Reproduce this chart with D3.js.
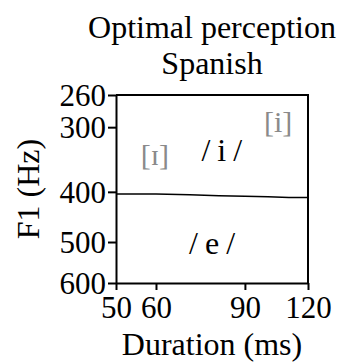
<!DOCTYPE html>
<html>
<head>
<meta charset="utf-8">
<script src="https://cdn.jsdelivr.net/npm/d3@7"></script>
<style>
  html, body { margin: 0; padding: 0; background: #fff; }
</style>
</head>
<body>
<svg id="chart" width="337" height="364"></svg>
<script>
// Category boundary between /i/ and /e/ across vowel duration
const boundaryDuration = [50, 60, 70, 80, 90, 100, 110, 120];
const boundaryF1 = [404, 404, 405, 407, 408, 409, 410, 410];

// Axis ticks
const durationTicks = [50, 60, 90, 120];
const f1Ticks = [260, 300, 400, 500, 600];

// Region labels: phonological categories and acoustic prototypes
const labelText = ["[\u026A]", "/i/", "[i]", "/e/"];
const labelDuration = [59.7, 81, 104.7, 77.5];
const labelF1 = [341, 334, 294, 505];
const labelColor = ["#8a8a8a", "#000", "#8a8a8a", "#000"];
const labelSpacing = [0, 7, 0, 7];

const FONT = "Liberation Serif";
const svg = d3.select("#chart");
const plotL = 116, plotR = 308, plotT = 95, plotB = 283;

const x = d3.scaleLog().domain([50, 120]).range([plotL, plotR]);
const y = d3.scaleLog().domain([260, 600]).range([plotT, plotB]);

// Title
svg.append("text").attr("x", (plotL + plotR) / 2).attr("y", 38)
  .attr("text-anchor", "middle").attr("font-family", FONT).attr("font-size", 32)
  .text("Optimal perception");
svg.append("text").attr("x", (plotL + plotR) / 2).attr("y", 74)
  .attr("text-anchor", "middle").attr("font-family", FONT).attr("font-size", 32)
  .text("Spanish");

// Frame (top and right edges)
svg.append("path")
  .attr("d", `M${plotL},${plotT}H${plotR}V${plotB}`)
  .attr("fill", "none").attr("stroke", "#000").attr("stroke-width", 2);

// Axes
const xAxis = d3.axisBottom(x).tickValues(durationTicks).tickFormat(d3.format("d"))
  .tickSizeInner(7).tickSizeOuter(0).tickPadding(6);
const gx = svg.append("g").attr("transform", `translate(0,${plotB})`).call(xAxis);

const yAxis = d3.axisLeft(y).tickValues(f1Ticks).tickFormat(d3.format("d"))
  .tickSizeInner(8).tickSizeOuter(0).tickPadding(2);
const gy = svg.append("g").attr("transform", `translate(${plotL},0)`).call(yAxis);

[gx, gy].forEach(g => {
  g.attr("font-family", FONT);
  g.selectAll(".domain").attr("stroke", "#000").attr("stroke-width", 2);
  g.selectAll(".tick line").attr("stroke", "#000").attr("stroke-width", 2);
  g.selectAll(".tick text").attr("fill", "#000").attr("font-size", 31)
    .attr("font-family", FONT);
});
gy.selectAll(".tick text").attr("dy", "0.34em");

// Axis titles
svg.append("text").attr("x", (plotL + plotR) / 2).attr("y", 355)
  .attr("text-anchor", "middle").attr("font-family", FONT).attr("font-size", 32)
  .text("Duration (ms)");
svg.append("text")
  .attr("transform", `translate(39,${(plotT + plotB) / 2}) rotate(-90)`)
  .attr("text-anchor", "middle").attr("font-family", FONT).attr("font-size", 32)
  .text("F1 (Hz)");

// Boundary line
const line = d3.line().x(d => x(d[0])).y(d => y(d[1]));
svg.append("path")
  .datum(d3.zip(boundaryDuration, boundaryF1))
  .attr("d", line).attr("fill", "none").attr("stroke", "#000").attr("stroke-width", 1.5);

// Region labels
svg.selectAll("text.region")
  .data(d3.range(labelText.length))
  .join("text").attr("class", "region")
  .attr("x", i => x(labelDuration[i]) + labelSpacing[i] / 2)
  .attr("y", i => y(labelF1[i]))
  .attr("dy", "0.3em")
  .attr("text-anchor", "middle")
  .attr("font-family", FONT)
  .attr("font-size", i => labelSpacing[i] ? 32 : 30)
  .attr("letter-spacing", i => labelSpacing[i])
  .attr("fill", i => labelColor[i])
  .text(i => labelText[i]);
</script>
</body>
</html>
